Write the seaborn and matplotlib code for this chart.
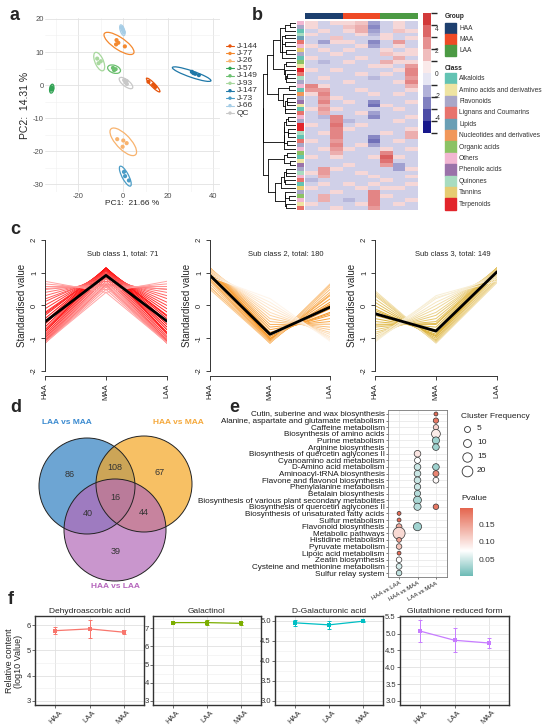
import numpy as np
import pandas as pd
import seaborn as sns
import matplotlib
matplotlib.use('Agg')
import matplotlib.pyplot as plt
from matplotlib.patches import Ellipse, Circle, Rectangle
from matplotlib.colors import LinearSegmentedColormap, ListedColormap, BoundaryNorm, Normalize
from matplotlib.cm import ScalarMappable
from matplotlib.ticker import MultipleLocator, FormatStrFormatter

# ---------------- data: a (PCA) ----------------
pca_groups = ['J-144', 'J-77', 'J-26', 'J-57', 'J-149', 'J-93', 'J-147', 'J-73', 'J-66', 'QC']
pca_colors = ['#E6550D', '#F4892F', '#F8B36E', '#31A354', '#6CC070', '#A8D89E',
              '#1F78A8', '#4A9CC6', '#A6CDE6', '#C8C8C8']
pca_pc1 = [[11.2, 13.3, 14.2], [-3.0, -2.2, 0.7, -3.2], [-2.7, 0.0, 1.5, -0.3],
           [-31.8, -32.1, -31.6], [-4.6, -3.4, -4.1], [-11.6, -11.0, -10.0],
           [30.5, 32.0, 33.6, 31.2], [0.3, 0.8, 2.5], [-0.8, -0.3, 0.2], [0.4, 1.0, 1.6, 1.5]]
pca_pc2 = [[1.0, 0.1, -0.6], [13.6, 12.8, 11.7, 12.3], [-16.4, -16.8, -17.6, -18.7],
           [-0.7, -1.4, -1.1], [5.2, 4.8, 4.5], [8.0, 6.6, 7.2],
           [4.0, 3.4, 3.0, 3.6], [-26.3, -27.6, -28.9], [17.4, 16.7, 16.0], [1.5, 0.8, 0.3, 1.2]]
ell_cx = [13.3, -1.9, 0.0, -31.8, -4.1, -10.7, 30.4, 0.9, -0.4, 1.2]
ell_cy = [0.0, 12.6, -17.2, -1.1, 4.8, 7.1, 3.3, -27.6, 16.6, 0.6]
ell_a = [3.6, 7.2, 6.8, 1.4, 2.9, 3.3, 8.8, 3.8, 1.8, 3.3]
ell_b = [0.7, 2.0, 2.5, 0.9, 1.2, 1.7, 1.0, 1.3, 0.9, 1.1]
ell_ang = [-34, -23, -32, 70, -10, -52, -13, -50, -60, -25]

# ---------------- data: b (heatmap) ----------------
heat_groups = ['HAA', 'MAA', 'LAA']
group_colors = ['#1D3F6E', '#EE4A26', '#4C9A44']
heat_rows = [
    [1, -1, 1, 1, 1.5, -2, -1, 1, -1], [1, -1, -1, 1.5, 2, -2.5, -1, 1, -1],
    [-1, 1, -1, 1, 2, -2, -1, 1.5, 1], [1, -1, -1, -1, 1, -1.5, 1, -1, -1],
    [-1, -1, 1.5, -1, -1, -1, 1, -1, 1], [-1, -2, 1, 1, -1, -2.5, -1, 2.5, -1],
    [1, -1, -1, -1, 1, -2, -1, 1, -1], [-1, 1, -1, 1, -1, -1, 1, -1, 1],
    [-1, -1, 1, -1, -1, -1, 1.5, 1, 1], [1, -1, -1, -1, 1, -1, -1, 2, -1],
    [-1, -1.5, -1, 1, -1, -1, 2, 1, 1], [-1, -1, -1, -1, -1, 1, 1, -1, 2.5],
    [1, -1, 1, -1, -1, -1, -1, 1, 3], [-1, -1, -1, -1, 1, -1, 1, -1, 3],
    [-1, 1, -1, -1, -1, -1.5, -1, -1, 2.5], [-1, -1, -1, 1, -1, -1, -1, 1, 3],
    [3, 1, -1, -1, -1, -1, -1, -1, 2], [2.5, 2.5, -1, -1, 1, -1, -1, -1, 1],
    [1, 3, -1, -1, -1, 1, -1, 1, -1], [-1, 2.5, 1, -1, -1, -1, -1, -1, -1],
    [-1, 3, -1, 1, -1, -2.5, -1, -1, 1], [-1, 2, -1, -1, -1, -3, 1, -1, -1],
    [1, 2.5, 1, -1, -1, -1, -1, 1, -1], [-1, 2, -1, -1, 1, -2, -1, -1, -1],
    [-1, -1.5, 3, -1, -1, -2.5, -1, -1, 1], [-1, -1, 3, -1.5, -1, -1, -1, 1, -1],
    [1, -1, 3.5, -1, 1, -1, -1, -1, -1], [-1, -1, 3, 1, -1, -1, -1, -1, 1],
    [-1, 1, 3, -1, -1, -1, 1, -1, 2], [-1, -1, 3, -1, -1, -2.5, -1, -1, 2],
    [1, -1, 2.5, -1, -1, -3, -1, 1, -1], [-1, -1, 3, -1, 1, -2, -1, -1, -1],
    [-1, 1, 2.5, 1, -1, -1, 1, -1, 1], [-1, -1, 2, -1, -1, -1, 3, -1, -1],
    [1, -1, 1, -1, -1, 1, 4, 1, -1], [-1, -1, -1, -1, -1, -1, 3.5, -1, -1],
    [-1, -1, -1, 1, -1, -1, 2.5, -2, -1], [-1, 2.5, 1, -1, -1, -1, -1, -2, 1],
    [1, 2.5, -1, -1, 1, -1, -1, -1, -1], [-1, 2, -1, -1, -1, 1, -1, -1, 1],
    [-1.5, -1, -1, -1, -1, -1, 1, -1, -1], [-1, 1, -1, 1, -1, 1, -1, -1, 1],
    [1, -1, -1, -1, 1, -1, 1, 1, -1], [-1, -1, 1, -1, -1, 3, -1, -1, -1],
    [-1, 2, -1, -1, -1, 3, 1, -1, -1], [-1, 2, -1, -1.5, -1, 3, -1, -1, 1],
    [1, -1, -1, -1, 1, 3, -1, 1, -1], [-1, -1, 1, -1, -1, 2.5, -1, -1, -1],
]
class_names = ['Alkaloids', 'Amino acids and derivatives', 'Flavonoids', 'Lignans and Coumarins',
               'Lipids', 'Nucleotides and derivatives', 'Organic acids', 'Others',
               'Phenolic acids', 'Quinones', 'Tannins', 'Terpenoids']
class_colors = ['#63C3B3', '#EFE4A2', '#A9A7C8', '#E8736C', '#6A9FB5', '#F1975A',
                '#8CC265', '#F2B6D2', '#9A72A9', '#A8DCC0', '#E6CC72', '#E2252B']
row_class = [7, 2, 0, 9, 4, 3, 7, 10, 2, 0, 6, 1, 11, 3, 9, 2, 7, 0, 5, 2, 8, 1, 0, 3,
             7, 2, 11, 11, 9, 0, 3, 2, 7, 6, 0, 1, 8, 2, 9, 7, 3, 0, 10, 2, 6, 7, 1, 3]

# ---------------- data: c (clusters) ----------------
stages = ['HAA', 'MAA', 'LAA']
c1_profiles = [(0.74, 0.40, -1.14), (0.66, 0.49, -1.15), (0.58, 0.57, -1.15), (0.49, 0.66, -1.15),
               (0.40, 0.74, -1.14), (0.30, 0.82, -1.12), (0.20, 0.88, -1.08), (0.12, 0.95, -1.07),
               (0.01, 1.00, -1.01), (-0.10, 1.05, -0.95), (-0.21, 1.09, -0.88), (-0.30, 1.12, -0.82),
               (-0.40, 1.14, -0.74), (-0.49, 1.15, -0.66), (-0.57, 1.15, -0.58), (-0.66, 1.15, -0.49),
               (-0.74, 1.14, -0.40), (-0.82, 1.12, -0.30), (-0.89, 1.09, -0.20), (-0.95, 1.05, -0.10),
               (-1.00, 1.00, 0.00), (-1.05, 0.95, 0.10), (-1.09, 0.88, 0.21), (-1.12, 0.82, 0.30),
               (-1.14, 0.74, 0.40), (-1.15, 0.66, 0.49), (-1.15, 0.57, 0.58), (-1.15, 0.49, 0.66),
               (-1.14, 0.40, 0.74), (0.52, 0.62, -1.14), (-1.13, 0.63, 0.50), (-0.80, 1.13, -0.33),
               (-0.25, 1.10, -0.85)]
c1_member = [0.35, 0.4, 0.45, 0.5, 0.55, 0.6, 0.65, 0.7, 0.75, 0.8, 0.85, 0.9, 0.95, 1.0, 1.0,
             1.0, 0.95, 0.9, 0.85, 0.8, 0.75, 0.7, 0.65, 0.6, 0.55, 0.5, 0.45, 0.4, 0.35,
             0.45, 0.5, 0.95, 0.9]
c2_profiles = [(0.49, -1.15, 0.66), (0.58, -1.15, 0.57), (0.66, -1.15, 0.49), (0.74, -1.14, 0.40),
               (0.82, -1.12, 0.30), (0.88, -1.08, 0.20), (0.95, -1.05, 0.10), (1.00, -1.00, 0.00),
               (1.05, -0.95, -0.10), (1.09, -0.88, -0.21), (1.12, -0.82, -0.30), (1.14, -0.74, -0.40),
               (1.15, -0.66, -0.49), (1.15, -0.58, -0.57), (1.15, -0.49, -0.66), (1.14, -0.40, -0.74),
               (1.12, -0.30, -0.82), (1.09, -0.21, -0.88), (1.05, -0.10, -0.95), (1.00, 0.00, -1.00),
               (0.95, 0.10, -1.05), (0.88, 0.21, -1.09), (0.55, -1.12, 0.62), (0.80, -1.13, 0.33),
               (1.10, -0.85, -0.25), (0.98, -1.02, 0.04)]
c2_member = [0.5, 0.55, 0.6, 0.7, 0.75, 0.85, 0.9, 1.0, 1.0, 0.95, 0.9, 0.85, 0.8, 0.7, 0.6,
             0.5, 0.4, 0.3, 0.25, 0.2, 0.15, 0.1, 0.55, 0.8, 0.9, 1.0]
c3_profiles = [(0.45, -1.15, 0.70), (0.40, -1.14, 0.74), (0.30, -1.12, 0.82), (0.20, -1.08, 0.88),
               (0.10, -1.05, 0.95), (0.00, -1.00, 1.00), (-0.10, -0.95, 1.05), (-0.21, -0.88, 1.09),
               (-0.30, -0.82, 1.12), (-0.40, -0.74, 1.14), (-0.49, -0.66, 1.15), (-0.57, -0.58, 1.15),
               (-0.66, -0.49, 1.15), (-0.74, -0.40, 1.14), (-0.82, -0.30, 1.12), (-0.88, -0.21, 1.09),
               (-0.95, -0.10, 1.05), (-1.00, 0.00, 1.00), (-1.05, 0.10, 0.95), (-1.09, 0.21, 0.88),
               (-1.12, 0.30, 0.82), (0.35, -1.13, 0.78), (-0.15, -0.92, 1.07), (-0.60, -0.55, 1.15),
               (-1.00, 0.25, 0.75)]
c3_member = [0.4, 0.5, 0.6, 0.7, 0.8, 0.9, 0.95, 1.0, 1.0, 0.95, 0.9, 0.85, 0.8, 0.7, 0.65,
             0.55, 0.5, 0.4, 0.3, 0.25, 0.2, 0.55, 1.0, 0.85, 0.2]
c_means = [(-0.50, 0.92, -0.48), (0.92, -0.88, -0.05), (-0.25, -0.78, 1.03)]
c_titles = ['Sub class 1, total: 71', 'Sub class 2, total: 180', 'Sub class 3, total: 149']
c_colors = ['#FF0000', '#F7931E', '#DCB033']

# ---------------- data: d (venn) ----------------
venn_sets = ['LAA vs MAA', 'HAA vs MAA', 'HAA vs LAA']
venn_colors = ['#2F7FC1', '#F5A623', '#B36AB8']
venn_text_colors = ['#3A8AD0', '#F5A83A', '#B565BC']
venn_counts = {'100': 86, '110': 108, '010': 67, '111': 16, '101': 40, '011': 44, '001': 39}

# ---------------- data: e (KEGG dots) ----------------
e_pathways = ['Cutin, suberine and wax biosynthesis', 'Alanine, aspartate and glutamate metabolism',
              'Caffeine metabolism', 'Biosynthesis of amino acids', 'Purine metabolism',
              'Arginine biosynthesis', 'Biosynthesis of quercetin aglycones II',
              'Cyanoamino acid metabolism', 'D-Amino acid metabolism', 'Aminoacyl-tRNA biosynthesis',
              'Flavone and flavonol biosynthesis', 'Phenylalanine metabolism', 'Betalain biosynthesis',
              'Biosynthesis of various plant secondary metabolites',
              'Biosynthesis of quercetin aglycones II', 'Biosynthesis of unsaturated fatty acids',
              'Sulfur metabolism', 'Flavonoid biosynthesis', 'Metabolic pathways',
              'Histidine metabolism', 'Pyruvate metabolism', 'Lipoic acid metabolism',
              'Zeatin biosynthesis', 'Cysteine and methionine metabolism', 'Sulfur relay system']
e_comps = ['HAA vs LAA', 'HAA vs MAA', 'LAA vs MAA']
e_row = [0, 1, 2, 3, 4, 5, 6, 7, 8, 8, 9, 9, 10, 10, 11, 12, 13, 14, 14,
         15, 16, 17, 17, 18, 19, 20, 21, 22, 23, 24]
e_comp = ['LAA vs MAA', 'LAA vs MAA', 'LAA vs MAA', 'LAA vs MAA', 'LAA vs MAA', 'LAA vs MAA',
          'HAA vs MAA', 'HAA vs MAA', 'HAA vs MAA', 'LAA vs MAA', 'HAA vs MAA', 'LAA vs MAA',
          'HAA vs MAA', 'LAA vs MAA', 'HAA vs MAA', 'HAA vs MAA', 'HAA vs MAA', 'HAA vs MAA',
          'LAA vs MAA', 'HAA vs LAA', 'HAA vs LAA', 'HAA vs LAA', 'HAA vs MAA', 'HAA vs LAA',
          'HAA vs LAA', 'HAA vs LAA', 'HAA vs LAA', 'HAA vs LAA', 'HAA vs LAA', 'HAA vs LAA']
e_freq = [1, 3.5, 3.5, 13, 8, 6.5, 6.5, 5, 6.5, 6.5, 6.5, 5, 6.5, 4.5, 6, 5.5, 10, 8, 4,
          1, 1, 4.5, 11, 26, 2.5, 4, 1, 4, 4.5, 4]
e_pval = [0.19, 0.18, 0.11, 0.09, 0.03, 0.03, 0.095, 0.075, 0.05, 0.03, 0.05, 0.17, 0.05, 0.08,
          0.05, 0.04, 0.035, 0.04, 0.18, 0.19, 0.19, 0.14, 0.03, 0.105, 0.15, 0.12, 0.19, 0.075,
          0.055, 0.045]
freq_legend = [5, 10, 15, 20]

# ---------------- data: f (metabolites) ----------------
f_names = ['Dehydroascorbic acid', 'Galactinol', 'D-Galacturonic acid', 'Glutathione reduced form']
f_groups = ['HAA', 'LAA', 'MAA']
f_means = [[5.78, 5.85, 5.72], [7.30, 7.30, 7.26], [4.95, 4.90, 4.99], [5.07, 4.80, 4.72]]
f_sds = [[0.14, 0.35, 0.07], [0.04, 0.14, 0.08], [0.07, 0.10, 0.01], [0.33, 0.35, 0.15]]
f_colors = ['#F8766D', '#7CAE00', '#00BFC4', '#C77CFF']
f_ymin = 3

# ---------------- figure ----------------
sns.set_theme(style='white')
plt.rcParams['font.family'] = ['Liberation Sans', 'DejaVu Sans']
plt.rcParams['axes.unicode_minus'] = False

W, H = 550, 728
fig = plt.figure(figsize=(W / 100, H / 100), dpi=100)


def add_ax(x0, y0, x1, y1):
    return fig.add_axes([x0 / W, 1 - y1 / H, (x1 - x0) / W, (y1 - y0) / H])


ov = fig.add_axes([0, 0, 1, 1])
ov.set_xlim(0, W)
ov.set_ylim(H, 0)
ov.axis('off')

# ---- a: PCA
ax = add_ax(45, 18, 220, 192)
recs = []
for g, xs, ys in zip(pca_groups, pca_pc1, pca_pc2):
    for x, y in zip(xs, ys):
        recs.append((g, x, y))
df_pca = pd.DataFrame(recs, columns=['group', 'PC1', 'PC2'])
pal = dict(zip(pca_groups, pca_colors))
sns.scatterplot(data=df_pca, x='PC1', y='PC2', hue='group', palette=pal, s=9,
                edgecolor='none', legend=False, ax=ax, zorder=3)
for i, g in enumerate(pca_groups):
    ax.add_patch(Ellipse((ell_cx[i], ell_cy[i]), 2 * ell_a[i], 2 * ell_b[i], angle=ell_ang[i],
                         fill=False, ec=pal[g], lw=0.9, zorder=2))
ax.set_xlim(-34.8, 43)
ax.set_ylim(-32.4, 20.3)
ax.set_xticks([-20, 0, 20, 40])
ax.set_xticks([-30, -10, 10, 30], minor=True)
ax.set_yticks([-30, -20, -10, 0, 10, 20])
ax.set_yticks(np.arange(-30, 21, 5), minor=True)
ax.grid(which='major', color='#E2E2E2', lw=0.6)
ax.grid(which='minor', color='#EFEFEF', lw=0.4)
ax.set_axisbelow(True)
for s in ax.spines.values():
    s.set_visible(False)
ax.tick_params(which='both', length=0, labelsize=5.5, colors='#4D4D4D', pad=1)
ax.set_xlabel('PC1:  21.66 %', fontsize=6, labelpad=0)
ax.set_ylabel('PC2:  14.31 %', fontsize=7.5, labelpad=2)
for i, g in enumerate(pca_groups):
    y = 46 + 7.45 * i
    ov.plot([226, 234], [y, y], color=pal[g], lw=0.8)
    ov.scatter([230], [y], s=6, color=pal[g], edgecolor='none')
    ov.text(237, y, g, fontsize=6, va='center', color='#333333')

# ---- b: heatmap
heat = np.array(heat_rows, dtype=float)
cmap_h = LinearSegmentedColormap.from_list('nwf', ['#000080', '#FFFFFF', '#CD2626'])
ax_h = add_ax(305, 20.7, 418, 210)
sns.heatmap(heat, ax=ax_h, cmap=cmap_h, vmin=-5.4, vmax=5.4, cbar=False,
            xticklabels=False, yticklabels=False)
ax_g = add_ax(305, 12.7, 418, 18.7)
sns.heatmap(np.repeat(np.arange(3), 3)[None, :], ax=ax_g, cmap=ListedColormap(group_colors),
            vmin=-0.5, vmax=2.5, cbar=False, xticklabels=False, yticklabels=False)
ax_r = add_ax(297, 20.7, 304, 210)
sns.heatmap(np.array(row_class)[:, None], ax=ax_r, cmap=ListedColormap(class_colors),
            vmin=-0.5, vmax=11.5, cbar=False, xticklabels=False, yticklabels=False)


def adjacent_linkage(X):
    # agglomerative clustering (ward-like) that only joins neighbouring rows
    cl = [dict(pos=i + 0.5, h=0.0, n=1, mean=X[i].copy()) for i in range(len(X))]
    links = []
    while len(cl) > 1:
        best = None
        for k in range(len(cl) - 1):
            a, b = cl[k], cl[k + 1]
            d = np.sqrt(2 * a['n'] * b['n'] / (a['n'] + b['n'])) * np.linalg.norm(a['mean'] - b['mean'])
            if best is None or d < best[0]:
                best = (d, k)
        d, k = best
        a, b = cl[k], cl[k + 1]
        h = max(d, a['h'], b['h'])
        links.append((a['pos'], a['h'], b['pos'], b['h'], h))
        n = a['n'] + b['n']
        cl[k:k + 2] = [dict(pos=(a['pos'] + b['pos']) / 2, h=h, n=n,
                            mean=(a['mean'] * a['n'] + b['mean'] * b['n']) / n)]
    return links


links = adjacent_linkage(heat)
ax_d = add_ax(262, 20.7, 296, 210)
for pa, ha, pb, hb, h in links:
    ax_d.plot([ha, h], [pa, pa], color='black', lw=0.6)
    ax_d.plot([hb, h], [pb, pb], color='black', lw=0.6)
    ax_d.plot([h, h], [pa, pb], color='black', lw=0.6)
ax_d.set_xlim(links[-1][4] * 1.02, 0)
ax_d.set_ylim(len(heat), 0)
ax_d.axis('off')

bounds = np.linspace(-5.4, 5.4, 11)
centers = (bounds[:-1] + bounds[1:]) / 2
ax_cb = add_ax(423, 13, 431, 133)
cb = fig.colorbar(ScalarMappable(norm=BoundaryNorm(bounds, 10),
                                 cmap=ListedColormap(cmap_h((centers + 5.4) / 10.8))),
                  cax=ax_cb, ticks=[-4, -2, 0, 2, 4])
cb.outline.set_visible(False)
ax_cb.tick_params(length=0, labelsize=4.8, pad=3, colors='#333333')

ov.text(445, 17, 'Group', fontsize=4.8, fontweight='bold', va='center')
for i, g in enumerate(heat_groups):
    ov.add_patch(Rectangle((445, 23 + 11 * i), 11, 11, color=group_colors[i]))
    ov.text(459, 28.5 + 11 * i, g, fontsize=4.8, va='center', color='#333333')
ov.text(445, 68, 'Class', fontsize=4.8, fontweight='bold', va='center')
for i, c in enumerate(class_names):
    ov.add_patch(Rectangle((445, 73 + 11.4 * i), 11, 11.4, color=class_colors[i]))
    ov.text(459, 78.7 + 11.4 * i, c, fontsize=4.8, va='center', color='#333333')

# ---- c: clusters
c_profiles = [c1_profiles, c2_profiles, c3_profiles]
c_members = [c1_member, c2_member, c3_member]
c_left = [45, 210, 375]
c_right = [167, 330, 497]
for k in range(3):
    ax = add_ax(c_left[k], 234.8, c_right[k], 376.2)
    recs = []
    for j, (prof, m) in enumerate(zip(c_profiles[k], c_members[k])):
        for s, v in enumerate(prof):
            recs.append((j, s, v, 1 - m))
    df = pd.DataFrame(recs, columns=['id', 'stage', 'value', 'fade'])
    cmap_c = LinearSegmentedColormap.from_list('c%d' % k, [c_colors[k], '#FFFFFF'])
    sns.lineplot(data=df, x='stage', y='value', units='id', estimator=None, hue='fade',
                 palette=cmap_c, hue_norm=(0, 1), lw=0.7, legend=False, ax=ax)
    sns.lineplot(x=[0, 1, 2], y=list(c_means[k]), color='black', lw=2.0, ax=ax)
    ax.set_xlim(0, 2)
    ax.set_ylim(-2.16, 2.16)
    ax.spines['top'].set_visible(False)
    ax.spines['right'].set_visible(False)
    ax.spines['left'].set_bounds(-2, 2)
    ax.spines['bottom'].set_bounds(0, 2)
    for s in ['left', 'bottom']:
        ax.spines[s].set_color('#333333')
        ax.spines[s].set_linewidth(0.7)
    ax.set_yticks([-2, -1, 0, 1, 2])
    ax.set_yticklabels(['-2', '-1', '0', '1', '2'], rotation=90, va='center')
    ax.set_xticks([0, 1, 2])
    ax.set_xticklabels(stages, rotation=90)
    ax.tick_params(left=True, bottom=True, direction='out', length=3, width=0.6,
                   labelsize=5.5, pad=2, colors='#222222')
    ax.set_xlabel('')
    ax.set_ylabel('Standardised value', fontsize=7, labelpad=3)
    ax.text(1.27, 1.6, c_titles[k], ha='center', va='center', fontsize=5.5)

# ---- d: venn
venn_cx = [87, 144, 115]
venn_cy = [486, 484, 530]
venn_r = [48, 48, 51]
for i in range(3):
    ov.add_patch(Circle((venn_cx[i], venn_cy[i]), venn_r[i], color=venn_colors[i], alpha=0.7, lw=0))
for i in range(3):
    ov.add_patch(Circle((venn_cx[i], venn_cy[i]), venn_r[i], fill=False, ec='#222222', lw=0.7))
gx, gy = np.meshgrid(np.arange(30, 200, 1.0), np.arange(430, 590, 1.0))
inside = [(gx - venn_cx[i]) ** 2 + (gy - venn_cy[i]) ** 2 <= venn_r[i] ** 2 for i in range(3)]
for key, count in venn_counts.items():
    mask = np.ones_like(gx, dtype=bool)
    for i in range(3):
        mask &= inside[i] == (key[i] == '1')
    ov.text(gx[mask].mean(), gy[mask].mean(), str(count), ha='center', va='center',
            fontsize=6.5, color='#333333')
venn_tx = [67, 178, 115]
venn_ty = [423, 423, 586]
for i in range(3):
    ov.text(venn_tx[i], venn_ty[i], venn_sets[i], ha='center', va='center', fontsize=6,
            fontweight='bold', color=venn_text_colors[i])

# ---- e: pathway dot plot
cmap_e = LinearSegmentedColormap.from_list('pv', [(0, '#6CBAB5'), (0.37, '#FFFFFF'), (1, '#E4654E')])
norm_e = Normalize(0.005, 0.195)
e_smin, e_smax = 7.9, 75.4
df_e = pd.DataFrame({'row': e_row, 'comp': e_comp, 'freq': e_freq, 'pval': e_pval})
df_e['xpos'] = df_e['comp'].map({c: i for i, c in enumerate(e_comps)})
ax = add_ax(388, 410, 447, 577)
sns.scatterplot(data=df_e, x='xpos', y='row', size='freq', sizes=(e_smin, e_smax),
                size_norm=(1, 26), hue='pval', palette=cmap_e, hue_norm=norm_e,
                edgecolor='#333333', linewidth=0.5, legend=False, ax=ax, zorder=3)
ax.set_xlim(-0.6, 2.6)
ax.set_ylim(24.6, -0.6)
ax.set_yticks(range(len(e_pathways)))
ax.set_yticklabels(e_pathways, fontsize=5.9)
ax.set_xticks(range(3))
ax.set_xticklabels(e_comps, rotation=30, ha='right', rotation_mode='anchor', fontsize=4.3)
ax.grid(color='#E5E5E5', lw=0.5)
ax.set_axisbelow(True)
for s in ax.spines.values():
    s.set_color('#777777')
    s.set_linewidth(0.6)
ax.tick_params(left=True, bottom=True, length=1.5, width=0.4, pad=1, colors='#1A1A1A')
ax.set_xlabel('')
ax.set_ylabel('')

ov.text(461, 416, 'Cluster Frequency', fontsize=6, va='center', color='#222222')
for i, v in enumerate(freq_legend):
    y = 429 + 14 * i
    s = e_smin + (v - 1) / (26 - 1) * (e_smax - e_smin)
    ov.scatter([467], [y], s=s, facecolor='white', edgecolor='#333333', linewidth=0.6)
    ov.text(477, y, str(v), fontsize=6, va='center', color='#222222')
ov.text(461, 499, 'Pvalue', fontsize=6, va='center', color='#222222')
cax = add_ax(460, 508, 473, 576)
cb = fig.colorbar(ScalarMappable(norm=norm_e, cmap=cmap_e), cax=cax, ticks=[0.05, 0.10, 0.15])
cb.ax.set_yticklabels(['0.05', '0.10', '0.15'])
cb.outline.set_visible(False)
cax.tick_params(labelsize=6, length=2, width=0.5, color='white', pad=2, colors='#333333')

# ---- f: metabolites
f_left = [35, 153, 275, 400]
f_right = [144, 261, 383, 509]
f_major = [1, 1, 0.5, 0.5]
for k in range(4):
    ax = add_ax(f_left[k], 616, f_right[k], 705)
    sns.lineplot(x=[0, 1, 2], y=f_means[k], color=f_colors[k], lw=0.9, marker='s',
                 markersize=2.8, markeredgewidth=0, ax=ax, zorder=3)
    ax.errorbar([0, 1, 2], f_means[k], yerr=f_sds[k], fmt='none', ecolor=f_colors[k],
                elinewidth=0.7, capsize=1.6, capthick=0.7, zorder=3)
    hi = max(m + s for m, s in zip(f_means[k], f_sds[k]))
    pad = 0.05 * (hi - f_ymin)
    ax.set_ylim(f_ymin - pad, hi + pad)
    ax.set_xlim(-0.6, 2.6)
    ax.yaxis.set_major_locator(MultipleLocator(f_major[k]))
    ax.yaxis.set_minor_locator(MultipleLocator(f_major[k] / 2))
    if f_major[k] < 1:
        ax.yaxis.set_major_formatter(FormatStrFormatter('%.1f'))
    ax.set_xticks([0, 1, 2])
    ax.set_xticklabels(f_groups, rotation=45)
    ax.grid(which='major', color='#E0E0E0', lw=0.6)
    ax.grid(which='minor', axis='y', color='#EEEEEE', lw=0.4)
    ax.set_axisbelow(True)
    for s in ax.spines.values():
        s.set_color('#333333')
        s.set_linewidth(1.0)
    ax.tick_params(left=True, bottom=True, length=2, width=0.5, labelsize=5.5, pad=1,
                   colors='#333333')
    ax.tick_params(which='minor', length=0)
    ax.set_title(f_names[k], fontsize=6, pad=2.5)
    ax.set_xlabel('')
    ax.set_ylabel('')
ov.text(14, 661, 'Relative content\n(log10 Value)', rotation=90, ha='center', va='center',
        fontsize=6.5, linespacing=1.0)

# ---- panel letters
for lab, x, y in [('a', 10, 15), ('b', 252, 15), ('c', 10, 229), ('d', 10, 407),
                  ('e', 229, 407), ('f', 8, 600)]:
    ov.text(x, y, lab, fontsize=13, fontweight='bold', ha='left', va='center')

fig.savefig('out.png', dpi=100)
